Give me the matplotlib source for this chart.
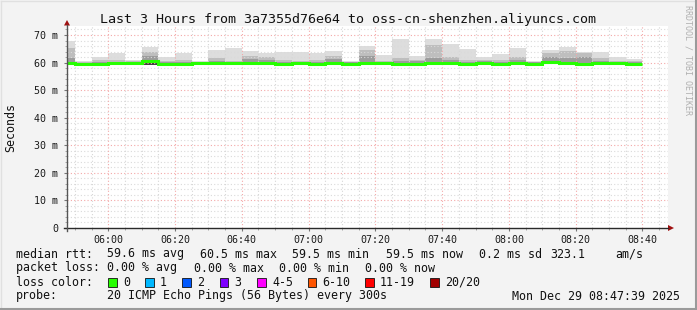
import matplotlib
matplotlib.use('Agg')
import matplotlib.pyplot as plt
import matplotlib.dates as mdates
from matplotlib.patches import Polygon, Rectangle
from matplotlib.lines import Line2D
import pandas as pd

W, H = 697, 310
MONO = 'DejaVu Sans Mono'

# ---- data ----
bin_start = pd.date_range('2025-12-29 05:45', '2025-12-29 08:35', freq='5min')
median_ms = [59.8, 59.5, 59.5, 59.8, 59.8, 60.5, 59.5, 59.5, 59.8, 59.8,
             59.8, 59.8, 59.8, 59.5, 59.8, 59.5, 59.8, 59.5, 59.8, 59.8,
             59.5, 59.5, 59.8, 59.8, 59.5, 59.8, 59.5, 59.8, 59.5, 60.1,
             59.8, 59.5, 59.8, 59.8, 59.5]
smoke_min = [59.6, 59.3, 59.3, 59.6, 59.6, 59.0, 59.3, 59.3, 59.6, 59.6,
             59.6, 59.6, 59.6, 59.3, 59.6, 59.3, 59.6, 59.3, 59.5, 59.6,
             59.3, 59.3, 59.6, 59.6, 59.3, 59.6, 59.3, 59.6, 59.3, 59.4,
             59.6, 59.3, 59.6, 59.6, 59.3]
smoke_max = [68.0, 60.4, 61.9, 63.4, 60.9, 65.8, 61.9, 63.4, 60.6, 64.6,
             65.4, 64.2, 63.6, 64.0, 64.0, 63.6, 64.2, 60.7, 66.1, 62.7,
             68.6, 62.4, 68.6, 66.7, 64.9, 62.1, 63.1, 65.4, 60.5, 64.6,
             65.8, 63.9, 63.7, 61.9, 61.3]
smoke_hi = [65.2, 60.1, 60.9, 61.0, 60.5, 64.0, 60.6, 60.8, 60.3, 61.5,
            60.5, 62.3, 62.0, 61.0, 60.6, 61.0, 62.5, 60.3, 64.6, 60.7,
            61.5, 61.0, 66.4, 62.1, 61.0, 61.0, 60.8, 62.1, 60.2, 63.5,
            64.3, 63.5, 61.5, 60.7, 60.7]
smoke_mid = [61.6, 60.0, 60.3, 60.3, 60.2, 62.5, 60.1, 60.2, 60.1, 60.5,
             60.2, 61.3, 61.0, 60.3, 60.2, 60.3, 61.2, 60.1, 62.5, 60.3,
             60.5, 60.5, 61.5, 61.0, 60.3, 60.5, 60.2, 61.0, 60.1, 62.0,
             61.5, 62.0, 60.5, 60.3, 60.3]

y_ticks = [0, 10, 20, 30, 40, 50, 60, 70]
y_tick_labels = ['0', '10 m', '20 m', '30 m', '40 m', '50 m', '60 m', '70 m']

title = 'Last 3 Hours from 3a7355d76e64 to oss-cn-shenzhen.aliyuncs.com'
rtt_items = [('median rtt:', 16), ('59.6 ms avg', 107), ('60.5 ms max', 200),
             ('59.5 ms min', 292), ('59.5 ms now', 386), ('0.2 ms sd', 479),
             ('323.1', 550), ('am/s', 615)]
loss_items = [('packet loss:', 16), ('0.00 % avg', 107), ('0.00 % max', 194),
              ('0.00 % min', 279), ('0.00 % now', 365)]
loss_labels = ['0', '1', '2', '3', '4-5', '6-10', '11-19', '20/20']
loss_colors = ['#26ff00', '#00b8ff', '#0059ff', '#7e00ff', '#ff00ff',
               '#ff5500', '#ff0000', '#a10000']
loss_box_x = [108, 145, 182, 219.5, 257, 307.5, 365, 430]
probe_text = '20 ICMP Echo Pings (56 Bytes) every 300s'
date_text = 'Mon Dec 29 08:47:39 2025'

# ---- figure ----
fig = plt.figure(figsize=(W / 100, H / 100), dpi=100)
fig.patch.set_facecolor('#f3f3f3')


def fx(x):
    return x / W


def fy(y):
    return 1 - y / H


# frame
fig.add_artist(Line2D([fx(0.5), fx(696.5)], [fy(0.5), fy(0.5)], color='#e0e0e0', lw=1))
fig.add_artist(Line2D([fx(0.5), fx(0.5)], [fy(0.5), fy(309.5)], color='#e0e0e0', lw=1))
fig.add_artist(Line2D([fx(0), fx(697)], [fy(309), fy(309)], color='#9a9a9a', lw=1.5))
fig.add_artist(Line2D([fx(696), fx(696)], [fy(0), fy(310)], color='#9a9a9a', lw=1.5))

ax = fig.add_axes([fx(67), fy(228), fx(668) - fx(67), fy(26) - fy(228)])
ax.set_facecolor('white')
for s in ax.spines.values():
    s.set_visible(False)

t0 = pd.Timestamp('2025-12-29 05:47:39')
t1 = pd.Timestamp('2025-12-29 08:47:39')
ax.set_xlim(mdates.date2num(t0), mdates.date2num(t1))
ax.set_ylim(0, (228 - 26) / 2.757)

xs = mdates.date2num(bin_start)
wd = 5 / 1440.0


# smoke layers
def layer(tops, bottoms, color):
    hts = [t - b for t, b in zip(tops, bottoms)]
    ax.bar(xs, hts, bottom=bottoms, width=wd, align='edge', color=color,
           linewidth=0, zorder=1)


layer(smoke_max, smoke_min, '#dddddd')
layer(smoke_hi, smoke_min, '#bebebe')
layer(smoke_mid, smoke_min, '#9c9c9c')
layer(median_ms, smoke_min, '#404040')

# grid (drawn over the smoke, like rrdtool)
for v in range(2, 74, 2):
    if v % 10 == 0:
        ax.axhline(v, color='#f4a8a8', lw=0.8, ls=(0, (1, 2)), zorder=2)
    else:
        ax.axhline(v, color='#dadada', lw=0.8, ls=(0, (1, 2)), zorder=2)
grid_times = pd.date_range('2025-12-29 05:50', '2025-12-29 08:45', freq='5min')
for t in grid_times:
    if t.minute % 20 == 0:
        ax.axvline(mdates.date2num(t), color='#f4a8a8', lw=0.8, ls=(0, (1, 2)), zorder=2)
    else:
        ax.axvline(mdates.date2num(t), color='#d6d6d6', lw=0.8, ls=(0, (1, 2)), zorder=2)

# median line
edges = list(xs) + [xs[-1] + wd]
ax.stairs(median_ms, edges, color='#26ff00', lw=2.2, zorder=3, baseline=None)

# ticks
ax.xaxis.set_major_locator(mdates.MinuteLocator(byminute=[0, 20, 40]))
ax.xaxis.set_major_formatter(mdates.DateFormatter('%H:%M'))
ax.xaxis.set_minor_locator(mdates.MinuteLocator(byminute=range(0, 60, 5)))
ax.set_yticks(y_ticks)
ax.set_yticklabels(y_tick_labels)
ax.set_yticks(range(0, 74, 2), minor=True)
ax.tick_params(axis='both', which='major', length=2, color='#777777',
               labelsize=7.2, labelcolor='#1a1a1a')
ax.tick_params(axis='both', which='minor', length=1.5, color='#999999')
ax.tick_params(axis='x', pad=3)
ax.tick_params(axis='y', pad=4.5)
for lab in ax.get_xticklabels() + ax.get_yticklabels():
    lab.set_family(MONO)

# axes with arrows
fig.add_artist(Line2D([fx(64), fx(668)], [fy(228), fy(228)], color='#2a2a2a', lw=1))
fig.add_artist(Polygon([(fx(668), fy(225)), (fx(668), fy(231)), (fx(674), fy(228))],
                       closed=True, color='#a01010', lw=0))
fig.add_artist(Line2D([fx(67), fx(67)], [fy(231), fy(25)], color='#555555', lw=1))
fig.add_artist(Polygon([(fx(64), fy(25.5)), (fx(70), fy(25.5)), (fx(67), fy(20))],
                       closed=True, color='#a01010', lw=0))

# texts
fig.text(fx(348), fy(19), title, family=MONO, fontsize=9.6, ha='center', va='center',
         color='#111111')
fig.text(fx(11), fy(127), 'Seconds', family=MONO, fontsize=8.4, rotation=90,
         ha='center', va='center', color='#111111')
fig.text(fx(688), fy(5), 'RRDTOOL / TOBI OETIKER', family=MONO, fontsize=6.0,
         rotation=270, ha='center', va='top', color='#b0b0b0')

for txt, x in rtt_items:
    fig.text(fx(x), fy(254), txt, family=MONO, fontsize=8.4, ha='left', va='center',
             color='#111111')
for txt, x in loss_items:
    fig.text(fx(x), fy(268), txt, family=MONO, fontsize=8.4, ha='left', va='center',
             color='#111111')
fig.text(fx(16), fy(282), 'loss color:', family=MONO, fontsize=8.4, ha='left',
         va='center', color='#111111')
for lab, col, bx in zip(loss_labels, loss_colors, loss_box_x):
    fig.add_artist(Rectangle((fx(bx), fy(286.5)), fx(8.5), fy(0) - fy(8.5),
                             facecolor=col, edgecolor='#111111', lw=0.6))
    fig.text(fx(bx + 15), fy(282), lab, family=MONO, fontsize=8.4, ha='left',
             va='center', color='#111111')
fig.text(fx(16), fy(296), 'probe:', family=MONO, fontsize=8.4, ha='left',
         va='center', color='#111111')
fig.text(fx(107), fy(296), probe_text, family=MONO, fontsize=8.4, ha='left',
         va='center', color='#111111')
fig.text(fx(680), fy(296), date_text, family=MONO, fontsize=8.4, ha='right',
         va='center', color='#111111')

fig.savefig('out.png', dpi=100, facecolor=fig.get_facecolor())
